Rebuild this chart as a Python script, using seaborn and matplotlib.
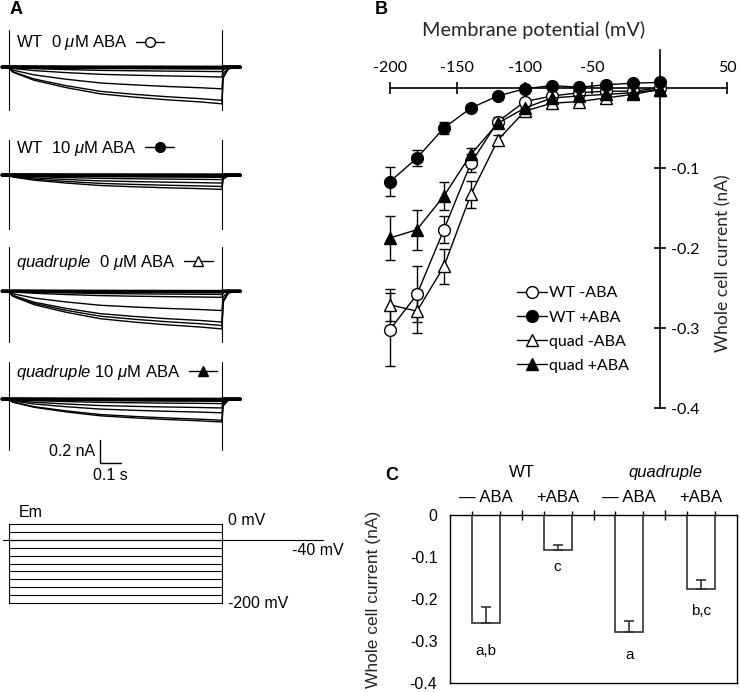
import numpy as np
import pandas as pd
import matplotlib.pyplot as plt
import matplotlib.transforms as mtransforms
from matplotlib.lines import Line2D
import seaborn as sns

sns.set_style("white")
plt.rcParams['font.family'] = ['Liberation Sans', 'DejaVu Sans']
plt.rcParams['mathtext.fontset'] = 'custom'
plt.rcParams['mathtext.rm'] = 'Liberation Sans'
plt.rcParams['mathtext.it'] = 'Liberation Sans:italic'
plt.rcParams['axes.edgecolor'] = 'black'
plt.rcParams['text.color'] = 'black'
plt.rcParams['xtick.color'] = 'black'
plt.rcParams['ytick.color'] = 'black'

# ---------------- data ----------------
# panel A: current traces (nA) at the end of each step, -200 .. 0 mV
step_mv = [-200, -180, -160, -140, -120, -100, -80, -60, -40, -20, 0]
trace_wt_0 = [0.32, 0.29, 0.19, 0.087, 0.04, 0.015, 0.008, 0.005, 0.003, 0.002, 0.0]
trace_wt_10 = [0.125, 0.10, 0.07, 0.04, 0.02, 0.01, 0.005, 0.003, 0.002, 0.001, 0.0]
trace_quad_0 = [0.33, 0.30, 0.27, 0.17, 0.055, 0.03, 0.015, 0.01, 0.005, 0.003, 0.0]
trace_quad_10 = [0.20, 0.185, 0.12, 0.078, 0.04, 0.02, 0.01, 0.006, 0.004, 0.002, 0.0]
# normalised time course of activation
trace_time = [-0.03, 0.0, 0.02, 0.12, 0.27, 0.43, 0.59, 0.74, 0.90, 1.0, 1.005, 1.03, 1.085]
trace_shape = [0, 0, 0.14, 0.36, 0.56, 0.73, 0.82, 0.89, 0.95, 1.0, 0.3, 0.05, 0.0]

# voltage protocol (mV)
em_steps = [0, -20, -40, -60, -80, -100, -120, -140, -160, -180, -200]
em_hold = -40

# panel B: I-V curves
voltage = [-200, -180, -160, -140, -120, -100, -80, -60, -40, -20, 0]
wt_minus = [-0.302, -0.258, -0.177, -0.094, -0.042, -0.017, -0.010, -0.006, -0.004, -0.004, 0.0]
wt_minus_err = [0.046, 0.035, 0.017, 0.011, 0.006, 0.003, 0.002, 0.002, 0.002, 0.002, 0.0]
wt_plus = [-0.117, -0.0875, -0.050, -0.025, -0.010, -0.001, 0.003, 0.001, 0.004, 0.006, 0.007]
wt_plus_err = [0.018, 0.010, 0.007, 0.003, 0.002, 0.002, 0.001, 0.001, 0.001, 0.001, 0.0]
quad_minus = [-0.271, -0.279, -0.223, -0.133, -0.065, -0.029, -0.019, -0.017, -0.0125, -0.008, -0.002]
quad_minus_err = [0.02, 0.027, 0.022, 0.017, 0.006, 0.004, 0.003, 0.003, 0.002, 0.002, 0.0]
quad_plus = [-0.1875, -0.177, -0.135, -0.083, -0.044, -0.025, -0.0125, -0.010, -0.008, -0.006, -0.002]
quad_plus_err = [0.027, 0.025, 0.018, 0.008, 0.005, 0.003, 0.002, 0.002, 0.002, 0.001, 0.0]

# panel C: mean current at -200 mV
cond_c = ['WT -ABA', 'WT +ABA', 'quad -ABA', 'quad +ABA']
treat_c = ['\u2014 ABA', '+ABA', '\u2014 ABA', '+ABA']
current_c = [-0.256, -0.083, -0.278, -0.176]
err_c = [0.037, 0.012, 0.026, 0.022]
letters_c = ['a,b', 'c', 'a', 'b,c']

# ---------------- layout helpers ----------------
W, H = 740, 692
fig = plt.figure(figsize=(W / 100, H / 100), dpi=100)


def rect(x0, y0, x1, y1):
    return [x0 / W, 1 - y1 / H, (x1 - x0) / W, (y1 - y0) / H]


PX_PER_S = 213.5
PX_PER_NA = 115.0
T0_PX = 8.5

# ---------------- panel A ----------------
traces_all = [trace_wt_0, trace_wt_10, trace_quad_0, trace_quad_10]
labels_a = [r'WT  0 $\mu$M ABA', r'WT  10 $\mu$M ABA',
            r'$\it{quadruple}$  0 $\mu$M ABA', r'$\it{quadruple}$ 10 $\mu$M ABA']
markers_a = [('o', 'white'), ('o', 'black'), ('^', 'white'), ('^', 'black')]
base_px = [67, 175, 291, 399]
top_px = [22, 130, 246, 354]
bot_px = [122, 230, 346, 470]
vtop_px = [30, 140, 247, 362]
vbot_px = [110, 230, 342, 450]
label_px = [43, 148, 262, 372]

for k in range(4):
    ax = fig.add_axes(rect(0, top_px[k], 245, bot_px[k]))
    ax.set_xlim(-T0_PX / PX_PER_S, (245 - T0_PX) / PX_PER_S)
    ax.set_ylim(-(bot_px[k] - base_px[k]) / PX_PER_NA, (base_px[k] - top_px[k]) / PX_PER_NA)
    ax.axis('off')
    for amp in traces_all[k]:
        lw = 2.2 if amp < 0.01 else 1.0
        ax.plot(trace_time, [-amp * s for s in trace_shape], color='black', lw=lw)
    yv = [-(vbot_px[k] - base_px[k]) / PX_PER_NA, (base_px[k] - vtop_px[k]) / PX_PER_NA]
    ax.plot([0, 0], yv, color='black', lw=0.8)
    ax.plot([1.0, 1.0], yv, color='black', lw=0.8)
    mk, fc = markers_a[k]
    h = Line2D([], [], color='black', lw=1, marker=mk, markersize=7,
               markerfacecolor=fc, markeredgecolor='black')
    ax.legend([h], [labels_a[k]], loc='center left', markerfirst=False, frameon=False,
              bbox_to_anchor=(16 / 245, (bot_px[k] - label_px[k]) / (bot_px[k] - top_px[k])),
              borderpad=0, borderaxespad=0, handlelength=1.7, handletextpad=0.5,
              fontsize=12)
    if k == 3:
        # scale bar: 0.1 s x 0.2 nA
        sx = (100 - T0_PX) / PX_PER_S
        sy = -(463 - base_px[k]) / PX_PER_NA
        ax.plot([sx, sx, sx + 0.1], [sy + 0.2, sy, sy], color='black', lw=1, clip_on=False)
        ax.text(sx - 0.025, sy + 0.1, '0.2 nA', ha='right', va='center', fontsize=11.5)
        ax.text(sx + 0.05, sy - 0.04, '0.1 s', ha='center', va='top', fontsize=11.5)

# voltage protocol
axE = fig.add_axes(rect(0, 500, 360, 615))
axE.set_xlim(-T0_PX / PX_PER_S, (360 - T0_PX) / PX_PER_S)
axE.set_ylim(-(615 - 524) / 0.395, (524 - 500) / 0.395)
axE.axis('off')
for v in em_steps:
    axE.plot([0, 1.0], [v, v], color='black', lw=0.8)
axE.plot([0, 0], [min(em_steps), max(em_steps)], color='black', lw=0.8)
axE.plot([1.0, 1.0], [min(em_steps), max(em_steps)], color='black', lw=0.8)
axE.plot([-0.026, 1.473], [em_hold, em_hold], color='black', lw=0.8)
axE.text(0.05, 30, 'Em', ha='left', va='center', fontsize=11.5)
axE.text(1.03, 8, '0 mV', ha='left', va='center', fontsize=11.5)
axE.text(1.33, -66, '-40 mV', ha='left', va='center', fontsize=11.5)
axE.text(1.03, -200, '-200 mV', ha='left', va='center', fontsize=11.5)

# ---------------- panel B ----------------
bfont = ['Lato', 'DejaVu Sans']
axB = fig.add_axes(rect(390, 50, 727, 408))
series_b = [('WT -ABA', wt_minus, wt_minus_err, 'o', 'white'),
            ('WT +ABA', wt_plus, wt_plus_err, 'o', 'black'),
            ('quad -ABA', quad_minus, quad_minus_err, '^', 'white'),
            ('quad +ABA', quad_plus, quad_plus_err, '^', 'black')]
for name, vals, errs, mk, fc in series_b:
    axB.errorbar(voltage, vals, yerr=errs, fmt='none', ecolor='black',
                 elinewidth=1, capsize=3.5, capthick=1, zorder=2, clip_on=False)
    sns.lineplot(x=voltage, y=vals, marker=mk, color='black', markerfacecolor=fc,
                 markeredgecolor='black', markeredgewidth=1, markersize=8.5 if mk == 'o' else 9,
                 linewidth=1, label=name, ax=axB, clip_on=False, zorder=3)

axB.set_xlim(-200, 50)
axB.set_ylim(-0.4, 0.0475)
axB.spines['left'].set_visible(False)
axB.spines['bottom'].set_visible(False)
axB.spines['top'].set_position(('data', 0))
axB.spines['right'].set_position(('data', 0))
for s in ['top', 'right']:
    axB.spines[s].set_linewidth(1.2)
axB.xaxis.set_ticks_position('top')
axB.xaxis.set_label_position('top')
axB.yaxis.set_ticks_position('right')
axB.yaxis.set_label_position('right')
axB.set_xticks([-200, -150, -100, -50, 0, 50])
axB.set_xticklabels(['-200', '-150', '-100', '-50', '', '50'], fontfamily=bfont)
axB.set_yticks([-0.1, -0.2, -0.3, -0.4])
axB.set_yticklabels(['-0.1', '-0.2', '-0.3', '-0.4'], fontfamily=bfont)
axB.tick_params(axis='both', direction='inout', length=8, width=1.2, labelsize=11.5)
axB.tick_params(axis='x', pad=5)
axB.tick_params(axis='y', pad=4)
axB.set_xlabel('Membrane potential (mV)', fontsize=14.3, fontfamily=bfont)
axB.xaxis.set_label_coords(0.427, 1.04)
axB.set_ylabel('Whole cell current (nA)', fontsize=12.6, fontfamily=bfont)
axB.yaxis.set_label_coords(0.964, 0.405)
axB.legend(loc='upper left', bbox_to_anchor=(0.377, 0.34), frameon=False,
           borderpad=0, borderaxespad=0, handlelength=1.85, handletextpad=0.15,
           labelspacing=0.62, prop={'family': bfont, 'size': 11.5})

# ---------------- panel C ----------------
axC = fig.add_axes(rect(450, 515, 737, 683))
df_c = pd.DataFrame({'condition': cond_c, 'current': current_c})
bar_w = 0.39
sns.barplot(data=df_c, x='condition', y='current', order=cond_c, color='white',
            edgecolor='#333333', linewidth=1.2, width=bar_w, errorbar=None, ax=axC)
axC.errorbar(range(len(cond_c)), current_c, yerr=[np.zeros(len(err_c)), err_c],
             fmt='none', ecolor='#333333', elinewidth=1.2, capsize=3.5, capthick=1.2)
for i in range(len(cond_c)):
    axC.text(i, current_c[i] - err_c[i] - 0.013, letters_c[i], ha='center', va='top', fontsize=11)
axC.set_xlim(-0.5, 3.5)
axC.set_ylim(-0.4, 0)
axC.set_yticks([0, -0.1, -0.2, -0.3, -0.4])
axC.set_yticklabels(['0', '-0.1', '-0.2', '-0.3', '-0.4'])
axC.xaxis.tick_top()
axC.set_xticks([0.5, 1.5, 2.5])
axC.set_xticklabels([])
axC.set_xticks(range(4), minor=True)
axC.set_xticklabels(treat_c, minor=True)
axC.tick_params(axis='x', which='major', direction='inout', length=7, width=1)
axC.tick_params(axis='x', which='minor', length=0, pad=7, labelsize=12)
axC.tick_params(axis='y', length=0, pad=9, labelsize=11.5)
# short ticks at the bar edges on the top axis
edge_ax = axC.secondary_xaxis('top')
edge_ax.set_xticks([i + d * bar_w / 2 for i in range(4) for d in (-1, 1)])
edge_ax.set_xticklabels([])
edge_ax.tick_params(direction='out', length=3, width=1)
edge_ax.spines['top'].set_visible(False)
for s in axC.spines.values():
    s.set_linewidth(1)
axC.set_xlabel('')
axC.set_ylabel('Whole cell current (nA)', fontsize=12.5)
axC.yaxis.set_label_coords(-0.24, 0.5)
blend = mtransforms.blended_transform_factory(axC.transData, axC.transAxes)
axC.text(0.5, 1.255, 'WT', transform=blend, ha='center', va='center', fontsize=12)
axC.text(2.5, 1.255, 'quadruple', transform=blend, ha='center', va='center',
         fontsize=12, style='italic')

# panel letters
fig.text(10 / W, 1 - 9 / H, 'A', fontsize=13, fontweight='bold', ha='left', va='center')
fig.text(375 / W, 1 - 10 / H, 'B', fontsize=13, fontweight='bold', ha='left', va='center')
fig.text(385 / W, 1 - 475 / H, 'C', fontsize=13, fontweight='bold', ha='left', va='center')

fig.savefig('out.png', dpi=100)
